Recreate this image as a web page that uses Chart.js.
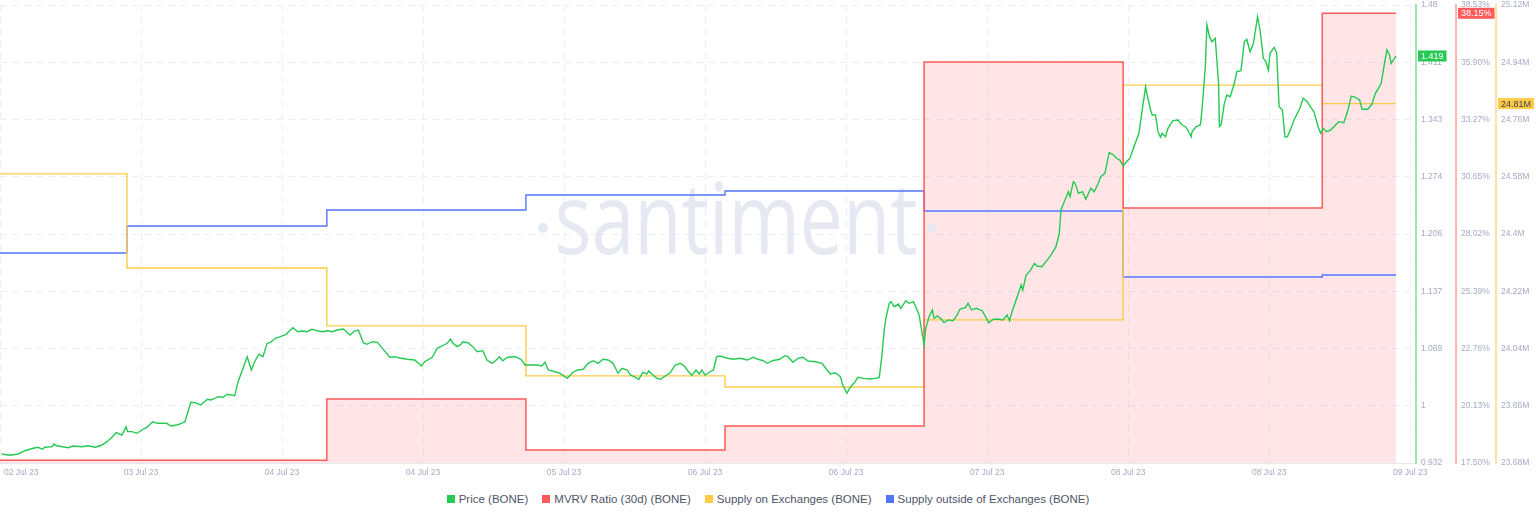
<!DOCTYPE html>
<html>
<head>
<meta charset="utf-8">
<title>BONE – Price, MVRV, Supply</title>
<script src="https://cdn.jsdelivr.net/npm/chart.js@4.4.0/dist/chart.umd.min.js"></script>
<style>
  html, body { margin: 0; padding: 0; background: #fff; }
  body { width: 1536px; height: 520px; overflow: hidden; font-family: "Liberation Sans", Arial, sans-serif; }
  #wrap { position: relative; width: 1536px; height: 485px; }
  #legend { display: flex; justify-content: center; align-items: center; height: 28px; font-size: 11.5px; color: #4f5568; }
  #legend .item { display: flex; align-items: center; margin: 0 7px; }
  #legend .sw { width: 8px; height: 8px; margin-right: 4px; }
</style>
</head>
<body>
<div id="wrap"><canvas id="chart"></canvas></div>
<div id="legend"></div>
<script>
// x axis is in hours since the first sample (02 Jul 23)
var xTickHours = [0, 17, 34, 51, 68, 85, 102, 119, 136, 153, 170];
var xTickLabels = ['02 Jul 23', '03 Jul 23', '04 Jul 23', '04 Jul 23', '05 Jul 23', '06 Jul 23', '06 Jul 23', '07 Jul 23', '08 Jul 23', '08 Jul 23', '09 Jul 23'];
var xMax = 170.7;

// right axes
var priceTicks = [0.932, 1.0005, 1.069, 1.1375, 1.206, 1.2745, 1.343, 1.4115, 1.48];
var priceTickLabels = ['0.932', '1', '1.069', '1.137', '1.206', '1.274', '1.343', '1.411', '1.48'];
var mvrvTicks = [17.5, 20.129, 22.758, 25.386, 28.015, 30.644, 33.273, 35.901, 38.53];
var mvrvTickLabels = ['17.50%', '20.13%', '22.76%', '25.39%', '28.02%', '30.65%', '33.27%', '35.90%', '38.53%'];
var supplyTicks = [23.68, 23.86, 24.04, 24.22, 24.4, 24.58, 24.76, 24.94, 25.12];
var supplyTickLabels = ['23.68M', '23.86M', '24.04M', '24.22M', '24.4M', '24.58M', '24.76M', '24.94M', '25.12M'];

// daily metrics: value i holds from stepHours[i] to stepHours[i + 1]
var stepHours = [0, 15.3, 39.4, 63.4, 87.4, 111.4, 135.4, 159.4, 168.3];
var mvrv = [17.63, 17.63, 20.44, 18.10, 19.20, 35.91, 29.21, 38.15];          // %
var supplyOn = [24.589, 24.293, 24.111, 23.954, 23.919, 24.130, 24.868, 24.81]; // M BONE
var supplyOut = [225.402, 225.698, 225.873, 226.037, 226.081, 225.862, 225.139, 225.161]; // M BONE

// price (USD)
var priceHours = [
  0.2, 1.2, 2.2, 3.0, 4.0, 4.6, 5.1, 5.4, 6.3, 6.5, 6.9, 7.6, 8.2, 8.8, 9.9, 10.6, 11.5, 12.3, 12.9, 13.5,
  14.0, 14.7, 15.2, 15.4, 15.9, 16.5, 17.1, 17.7, 18.4, 19.0, 20.1, 20.6, 21.3, 21.9, 22.3, 23.0, 23.5, 24.2, 25.0, 25.4,
  25.9, 26.3, 26.9, 27.4, 28.3, 28.7, 29.3, 29.8, 30.3, 30.7, 31.2, 31.7, 32.2, 32.6, 33.2, 33.8, 34.5, 35.0, 35.3, 35.9,
  36.4, 37.0, 37.6, 38.2, 38.9, 39.5, 40.1, 40.6, 41.4, 42.2, 42.7, 43.2, 43.8, 44.2, 44.9, 45.5, 46.2, 47.0, 47.6, 48.2,
  49.1, 50.0, 50.8, 51.2, 52.1, 52.7, 53.3, 53.9, 54.3, 54.6, 55.1, 55.5, 55.8, 56.4, 57.0, 57.5, 58.2, 58.7, 59.3, 59.7,
  60.2, 60.6, 61.2, 62.1, 62.8, 63.3, 63.9, 64.7, 65.3, 65.7, 66.1, 66.9, 67.5, 68.4, 69.0, 69.6, 70.3, 70.9, 71.5, 72.1,
  72.7, 73.3, 73.9, 74.5, 75.0, 75.6, 76.0, 76.6, 77.0, 77.5, 78.0, 78.2, 78.7, 79.2, 79.6, 80.2, 80.8, 81.4, 82.0, 82.5,
  83.0, 83.4, 83.9, 84.3, 84.6, 85.0, 85.6, 86.0, 86.4, 86.8, 87.7, 88.4, 89.2, 90.1, 90.8, 91.4, 92.0, 92.5, 93.1, 94.0,
  94.6, 95.0, 95.6, 96.2, 96.8, 97.4, 98.3, 99.1, 99.7, 100.1, 100.7, 101.3, 101.6, 102.1, 102.5, 103.1, 103.4, 104.1, 104.9, 105.5,
  106.0, 106.3, 106.6, 106.8, 107.2, 107.4, 107.8, 108.3, 108.6, 109.2, 109.6, 110.1, 110.4, 110.8, 111.0, 111.4, 111.6, 112.0, 112.4, 112.6,
  113.0, 113.5, 113.8, 114.3, 114.9, 115.4, 115.7, 116.4, 116.7, 117.1, 117.7, 118.4, 118.8, 119.2, 119.7, 120.3, 120.9, 121.4, 121.7, 122.0,
  122.7, 123.1, 123.3, 123.7, 124.2, 124.7, 125.0, 125.6, 126.4, 126.7, 127.3, 127.7, 127.9, 128.3, 128.8, 129.0, 129.4, 129.6, 130.0, 130.5,
  130.9, 131.5, 131.9, 132.4, 132.7, 133.2, 133.7, 134.1, 134.6, 135.0, 135.4, 135.8, 136.2, 136.7, 137.3, 137.7, 138.1, 138.3, 138.7, 138.9,
  139.3, 139.6, 139.9, 140.1, 140.5, 140.8, 141.4, 142.0, 142.5, 142.9, 143.2, 143.6, 143.7, 144.2, 144.7, 144.8, 145.0, 145.3, 145.5, 145.8,
  146.1, 146.5, 146.9, 147.0, 147.2, 147.6, 147.9, 148.3, 148.8, 149.1, 149.6, 150.0, 150.3, 150.7, 151.1, 151.6, 151.9, 152.3, 152.6, 152.9,
  153.1, 153.6, 153.9, 154.2, 154.6, 154.9, 155.2, 155.7, 156.0, 156.7, 157.1, 157.6, 157.9, 158.4, 158.9, 159.2, 159.5, 159.9, 160.4, 161.0,
  161.4, 162.0, 162.5, 162.9, 163.4, 163.9, 164.2, 164.9, 165.4, 165.8, 166.1, 166.5, 166.9, 167.2, 167.5, 167.7, 168.1, 168.3
];
var priceValues = [
  0.9428, 0.9412, 0.9428, 0.9467, 0.9496, 0.9508, 0.9484, 0.9508, 0.9515, 0.9547, 0.9523, 0.9515, 0.9503, 0.9523, 0.9515, 0.9527, 0.9508, 0.9535, 0.9575, 0.9628,
  0.9683, 0.9655, 0.9754, 0.9695, 0.9695, 0.9675, 0.9715, 0.9747, 0.9814, 0.9795, 0.9795, 0.9763, 0.9775, 0.9795, 0.9814, 1.0046, 1.0042, 1.0014, 1.0082, 1.0074,
  1.0094, 1.0113, 1.0106, 1.0142, 1.0125, 1.0293, 1.0453, 1.0592, 1.0433, 1.0532, 1.0621, 1.0592, 1.0752, 1.0764, 1.0812, 1.0831, 1.0860, 1.0911, 1.0939, 1.0891,
  1.0899, 1.0891, 1.0920, 1.0903, 1.0891, 1.0903, 1.0891, 1.0911, 1.0923, 1.0852, 1.0899, 1.0911, 1.0759, 1.0740, 1.0771, 1.0764, 1.0680, 1.0585, 1.0592, 1.0576,
  1.0561, 1.0552, 1.0481, 1.0532, 1.0585, 1.0692, 1.0720, 1.0752, 1.0804, 1.0752, 1.0712, 1.0732, 1.0771, 1.0759, 1.0712, 1.0652, 1.0664, 1.0552, 1.0513, 1.0540,
  1.0592, 1.0544, 1.0585, 1.0592, 1.0561, 1.0493, 1.0493, 1.0493, 1.0481, 1.0525, 1.0433, 1.0412, 1.0393, 1.0333, 1.0400, 1.0433, 1.0441, 1.0513, 1.0544, 1.0513,
  1.0561, 1.0552, 1.0513, 1.0393, 1.0453, 1.0433, 1.0373, 1.0345, 1.0322, 1.0405, 1.0385, 1.0421, 1.0373, 1.0333, 1.0322, 1.0361, 1.0400, 1.0493, 1.0513, 1.0481,
  1.0412, 1.0369, 1.0433, 1.0385, 1.0433, 1.0373, 1.0412, 1.0433, 1.0592, 1.0600, 1.0573, 1.0561, 1.0573, 1.0552, 1.0585, 1.0561, 1.0544, 1.0513, 1.0544, 1.0561,
  1.0604, 1.0592, 1.0525, 1.0573, 1.0585, 1.0540, 1.0532, 1.0513, 1.0433, 1.0385, 1.0400, 1.0353, 1.0253, 1.0154, 1.0226, 1.0293, 1.0345, 1.0333, 1.0325, 1.0333,
  1.0345, 1.0592, 1.0911, 1.1055, 1.1231, 1.1250, 1.1190, 1.1222, 1.1171, 1.1262, 1.1231, 1.1250, 1.1190, 1.1091, 1.0971, 1.0732, 1.0932, 1.1071, 1.1151, 1.1051,
  1.1079, 1.1039, 1.0999, 1.1031, 1.1023, 1.1091, 1.1159, 1.1183, 1.1231, 1.1151, 1.1171, 1.1142, 1.1071, 1.0999, 1.1039, 1.1043, 1.1031, 1.1091, 1.1023, 1.1130,
  1.1330, 1.1450, 1.1390, 1.1569, 1.1621, 1.1709, 1.1677, 1.1669, 1.1769, 1.1809, 1.1908, 1.2068, 1.2347, 1.2447, 1.2566, 1.2506, 1.2686, 1.2667, 1.2547, 1.2566,
  1.2475, 1.2607, 1.2566, 1.2667, 1.2746, 1.2786, 1.3033, 1.3017, 1.2966, 1.2945, 1.2874, 1.2925, 1.2966, 1.3105, 1.3265, 1.3544, 1.3822, 1.3723, 1.3544, 1.3484,
  1.3484, 1.3284, 1.3217, 1.3265, 1.3224, 1.3325, 1.3416, 1.3424, 1.3364, 1.3344, 1.3304, 1.3224, 1.3284, 1.3344, 1.3364, 1.3444, 1.3663, 1.4062, 1.4561, 1.4421,
  1.4361, 1.4402, 1.3863, 1.3344, 1.3364, 1.3624, 1.3723, 1.3703, 1.3863, 1.4002, 1.4014, 1.4361, 1.4390, 1.4241, 1.4342, 1.4660, 1.4501, 1.4162, 1.4122, 1.4022,
  1.4222, 1.4294, 1.4229, 1.3583, 1.3544, 1.3224, 1.3224, 1.3344, 1.3424, 1.3564, 1.3684, 1.3643, 1.3592, 1.3523, 1.3344, 1.3265, 1.3325, 1.3284, 1.3304, 1.3364,
  1.3404, 1.3392, 1.3544, 1.3711, 1.3696, 1.3663, 1.3552, 1.3552, 1.3615, 1.3744, 1.3791, 1.3863, 1.4102, 1.4262, 1.4202, 1.4102, 1.4162, 1.4190
];

var seriesNames = ['Price (BONE)', 'MVRV Ratio (30d) (BONE)', 'Supply on Exchanges (BONE)', 'Supply outside of Exchanges (BONE)'];
var seriesColors = ['#26c953', '#ff5b5b', '#ffcb47', '#5275ff'];

var TICK_COLOR = '#a4abc2';
var GRID_COLOR = '#eceef5';

function stepPoints(values) {
    return stepHours.map(function(h, i) {
        return { x: h, y: values[Math.min(i, values.length - 1)] };
    });
}

function fixedTicks(values) {
    return function(scale) {
        scale.ticks = values.map(function(v) { return { value: v }; });
    };
}

// faint "·santiment·" mark behind the lines
var watermark = {
    id: 'watermark',
    beforeDatasetsDraw: function(chart) {
        var ctx = chart.ctx, a = chart.chartArea;
        var cx = a.left + (a.right - a.left) * 0.52;
        var base = a.top + (a.bottom - a.top) * 0.543;
        ctx.save();
        ctx.fillStyle = '#e6e9f2';
        ctx.font = '98px "Open Sans", "Noto Sans", sans-serif';
        var w = ctx.measureText('santiment').width;
        var target = 363;
        ctx.translate(cx - target / 2, base);
        ctx.scale(target / w, 1);
        ctx.fillText('santiment', 0, 0);
        ctx.restore();
        ctx.save();
        ctx.fillStyle = '#e6e9f2';
        [cx - target / 2 - 12, cx + target / 2 + 14].forEach(function(x) {
            ctx.beginPath();
            ctx.arc(x, base - 26, 5, 0, Math.PI * 2);
            ctx.fill();
        });
        ctx.restore();
    }
};

// date labels under the x grid lines
var xLabels = {
    id: 'xLabels',
    afterDraw: function(chart) {
        var ctx = chart.ctx, xs = chart.scales.x, a = chart.chartArea;
        ctx.save();
        ctx.fillStyle = TICK_COLOR;
        ctx.font = '8.5px "Liberation Sans", Arial, sans-serif';
        ctx.textBaseline = 'middle';
        xTickHours.forEach(function(h, i) {
            var x = xs.getPixelForValue(h);
            ctx.textAlign = i === 0 ? 'left' : 'center';
            ctx.fillText(xTickLabels[i], i === 0 ? x + 4 : x, a.bottom + 10);
        });
        ctx.restore();
    }
};

// last-value tags on the right axes
var lastBadges = {
    id: 'lastBadges',
    afterDraw: function(chart) {
        var ctx = chart.ctx;
        ctx.save();
        ctx.font = '9px "Liberation Sans", Arial, sans-serif';
        ctx.textBaseline = 'middle';
        ctx.textAlign = 'left';
        chart.data.datasets.forEach(function(ds) {
            if (!ds.badge) return;
            var scale = chart.scales[ds.yAxisID];
            var v = ds.data[ds.data.length - 1].y;
            var y = scale.getPixelForValue(v);
            var txt = ds.badge.fmt(v);
            var w = ctx.measureText(txt).width + 6;
            var x = scale.left + 2;
            ctx.fillStyle = ds.borderColor;
            ctx.fillRect(x, y - 5.5, w, 11);
            ctx.fillStyle = ds.badge.text;
            ctx.fillText(txt, x + 3, y + 0.5);
        });
        ctx.restore();
    }
};

Chart.defaults.font.family = '"Liberation Sans", Arial, sans-serif';

var priceData = priceHours.map(function(h, i) { return { x: h, y: priceValues[i] }; });

function rightAxis(min, max, ticks, labels, borderColor, withGrid) {
    return {
        type: 'linear',
        position: 'right',
        min: min,
        max: max,
        afterBuildTicks: fixedTicks(ticks),
        afterFit: function(s) {
            s.width = 40;
            // labels may hang over the plot edges; keep the plot tall
            s.paddingTop = 5;
            s.paddingBottom = 5;
        },
        ticks: {
            color: TICK_COLOR,
            font: { size: 8.5 },
            padding: 5,
            callback: function(v, i) { return labels[i]; }
        },
        grid: { display: withGrid, color: GRID_COLOR, drawTicks: false },
        border: { display: true, color: borderColor, width: 2, dash: [7, 5] }
    };
}

new Chart(document.getElementById('chart'), {
    type: 'line',
    data: {
        datasets: [{
            label: seriesNames[0],
            data: priceData,
            yAxisID: 'yPrice',
            borderColor: seriesColors[0],
            borderWidth: 1.4,
            pointRadius: 0,
            tension: 0,
            badge: { text: '#ffffff', fmt: function(v) { return v.toFixed(3); } }
        }, {
            label: seriesNames[1],
            data: stepPoints(mvrv),
            yAxisID: 'yMvrv',
            stepped: true,
            borderColor: seriesColors[1],
            backgroundColor: 'rgba(255, 99, 99, 0.17)',
            fill: 'start',
            borderWidth: 1.5,
            pointRadius: 0,
            badge: { text: '#ffffff', fmt: function(v) { return v.toFixed(2) + '%'; } }
        }, {
            label: seriesNames[2],
            data: stepPoints(supplyOn),
            yAxisID: 'ySupply',
            stepped: true,
            borderColor: seriesColors[2],
            borderWidth: 1.4,
            pointRadius: 0,
            badge: { text: '#3a3f52', fmt: function(v) { return v.toFixed(2) + 'M'; } }
        }, {
            label: seriesNames[3],
            data: stepPoints(supplyOut),
            yAxisID: 'yOut',
            stepped: true,
            borderColor: seriesColors[3],
            borderWidth: 1.4,
            pointRadius: 0
        }]
    },
    options: {
        responsive: true,
        maintainAspectRatio: false,
        animation: false,
        events: [],
        layout: { padding: { top: 5, left: 0, right: 0, bottom: 0 } },
        plugins: {
            legend: { display: false },
            tooltip: { enabled: false },
            filler: { drawTime: 'beforeDatasetsDraw' }
        },
        scales: {
            x: {
                type: 'linear',
                min: 0,
                max: xMax,
                afterBuildTicks: fixedTicks(xTickHours),
                afterFit: function(s) { s.height = 22; },
                ticks: { display: false },
                grid: { color: GRID_COLOR, drawTicks: false },
                border: { display: true, color: '#e6e8f0', width: 1, dash: [7, 5] }
            },
            yPrice: rightAxis(0.932, 1.48, priceTicks, priceTickLabels, '#9ee4ad', true),
            yMvrv: rightAxis(17.5, 38.53, mvrvTicks, mvrvTickLabels, '#ffb4b4', false),
            ySupply: rightAxis(23.68, 25.12, supplyTicks, supplyTickLabels, '#ffe3a3', false),
            yOut: { type: 'linear', display: false, min: 223.1, max: 228.12 }
        }
    },
    plugins: [watermark, xLabels, lastBadges]
});

// legend
var legendHtml = '';
seriesNames.forEach(function(name, i) {
    legendHtml += '<div class="item"><span class="sw" style="background:' + seriesColors[i] + '"></span><span>' + name + '</span></div>';
});
document.getElementById('legend').innerHTML = legendHtml;
</script>
</body>
</html>
